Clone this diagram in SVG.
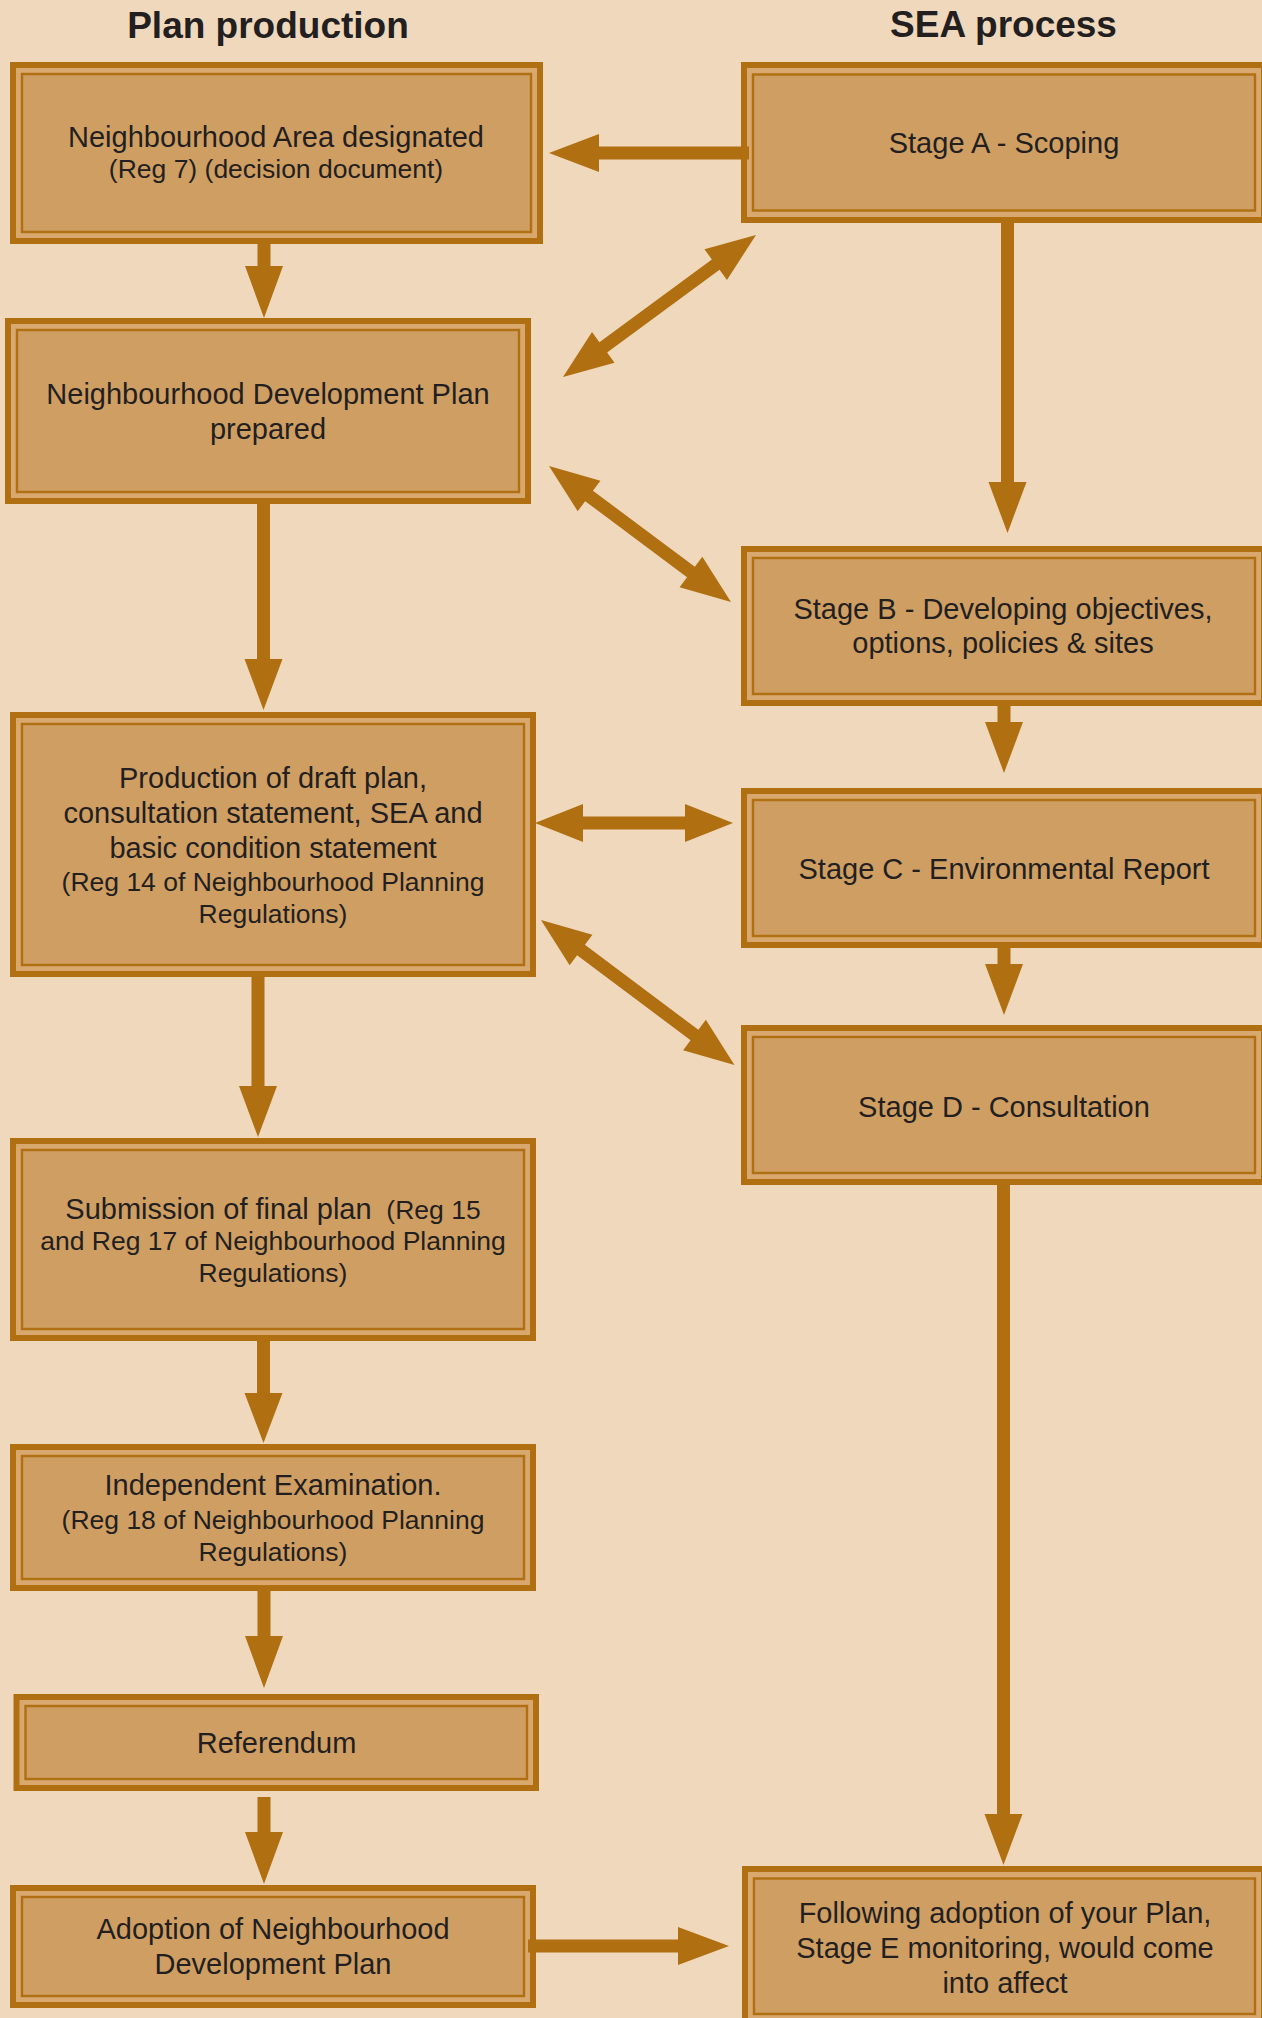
<svg xmlns="http://www.w3.org/2000/svg" width="1262" height="2018" viewBox="0 0 1262 2018">
<style>
.bg{fill:#EFD8BC}
.outer{fill:#D8A86E;stroke:#B06F10;stroke-width:6}
.inner{fill:#CF9E63;stroke:#B06F10;stroke-width:2.4}
.t{font-family:"Liberation Sans",Arial,sans-serif;fill:#231F20;text-anchor:middle;font-size:29px}
.s{font-size:26.5px}
.h{font-family:"Liberation Sans",Arial,sans-serif;fill:#231F20;text-anchor:middle;font-size:37px;font-weight:bold}
.c{fill:#B06F10}
</style>
<rect class="bg" x="0" y="0" width="1262" height="2018"/>
<text class="h" x="268" y="38">Plan production</text>
<text class="h" x="1003.5" y="37">SEA process</text>

<g id="n1">
<rect class="outer" x="13" y="65" width="527" height="176"/>
<rect class="inner" x="22" y="74" width="509" height="158"/>
<text class="t" x="276" y="147">Neighbourhood Area designated</text>
<text class="t s" x="276" y="178">(Reg 7) (decision document)</text>
</g>
<g id="n2">
<rect class="outer" x="8" y="321" width="520" height="180"/>
<rect class="inner" x="17" y="330" width="502" height="162"/>
<text class="t" x="268" y="404">Neighbourhood Development Plan</text>
<text class="t" x="268" y="439">prepared</text>
</g>
<g id="n3">
<rect class="outer" x="13" y="715" width="520" height="259"/>
<rect class="inner" x="22" y="724" width="502" height="241"/>
<text class="t" x="273" y="788">Production of draft plan,</text>
<text class="t" x="273" y="823">consultation statement, SEA and</text>
<text class="t" x="273" y="858">basic condition statement</text>
<text class="t s" x="273" y="891">(Reg 14 of Neighbourhood Planning</text>
<text class="t s" x="273" y="923">Regulations)</text>
</g>
<g id="n4">
<rect class="outer" x="13" y="1141" width="520" height="197"/>
<rect class="inner" x="22" y="1150" width="502" height="179"/>
<text class="t" x="273" y="1219" xml:space="preserve">Submission of final plan<tspan class="s">  (Reg 15</tspan></text>
<text class="t s" x="273" y="1250">and Reg 17 of Neighbourhood Planning</text>
<text class="t s" x="273" y="1282">Regulations)</text>
</g>
<g id="n5">
<rect class="outer" x="13" y="1447" width="520" height="141"/>
<rect class="inner" x="22" y="1456" width="502" height="123"/>
<text class="t" x="273" y="1495">Independent Examination.</text>
<text class="t s" x="273" y="1529">(Reg 18 of Neighbourhood Planning</text>
<text class="t s" x="273" y="1561">Regulations)</text>
</g>
<g id="n6">
<rect class="outer" x="16.5" y="1697" width="519.5" height="91"/>
<rect class="inner" x="25.5" y="1706" width="501.5" height="73"/>
<text class="t" x="276.5" y="1753">Referendum</text>
</g>
<g id="n7">
<rect class="outer" x="13" y="1888" width="520" height="117"/>
<rect class="inner" x="22" y="1897" width="502" height="99"/>
<text class="t" x="273" y="1939">Adoption of Neighbourhood</text>
<text class="t" x="273" y="1974">Development Plan</text>
</g>
<g id="nA">
<rect class="outer" x="744" y="65" width="520" height="155"/>
<rect class="inner" x="753" y="74.5" width="502" height="136"/>
<text class="t" x="1004" y="153">Stage A - Scoping</text>
</g>
<g id="nB">
<rect class="outer" x="744" y="549" width="520" height="154"/>
<rect class="inner" x="753" y="558" width="502" height="136"/>
<text class="t" x="1003" y="619">Stage B - Developing objectives,</text>
<text class="t" x="1003" y="653">options, policies &amp; sites</text>
</g>
<g id="nC">
<rect class="outer" x="744" y="791" width="520" height="154"/>
<rect class="inner" x="753" y="800" width="502" height="136"/>
<text class="t" x="1004" y="879">Stage C - Environmental Report</text>
</g>
<g id="nD">
<rect class="outer" x="744" y="1028" width="520" height="154"/>
<rect class="inner" x="753" y="1037" width="502" height="136"/>
<text class="t" x="1004" y="1117">Stage D - Consultation</text>
</g>
<g id="nE">
<rect class="outer" x="745" y="1869" width="519" height="152"/>
<rect class="inner" x="754" y="1878.5" width="501" height="135.5"/>
<text class="t" x="1005" y="1923">Following adoption of your Plan,</text>
<text class="t" x="1005" y="1958">Stage E monitoring, would come</text>
<text class="t" x="1005" y="1993">into affect</text>
</g>

<g id="connectors" class="c">
<polygon points="257.5,244 270.5,244 270.5,266 283,266 264,318 245,266 257.5,266"/>
<polygon points="257,504 270,504 270,659 282.5,659 263.5,710 244.5,659 257,659"/>
<polygon points="251.5,977 264.5,977 264.5,1086 277,1086 258,1137 239,1086 251.5,1086"/>
<polygon points="257,1341 270,1341 270,1393 282.5,1393 263.5,1443 244.5,1393 257,1393"/>
<polygon points="257.5,1591 270.5,1591 270.5,1636 283,1636 264,1688 245,1636 257.5,1636"/>
<polygon points="257.5,1797 270.5,1797 270.5,1832 283,1832 264,1884 245,1832 257.5,1832"/>
<polygon points="1001,222 1014,222 1014,482 1026.5,482 1007.5,533 988.5,482 1001,482"/>
<polygon points="997.5,704 1010.5,704 1010.5,722 1023,722 1004,773 985,722 997.5,722"/>
<polygon points="997.5,946 1010.5,946 1010.5,964 1023,964 1004,1015 985,964 997.5,964"/>
<polygon points="997,1185 1010,1185 1010,1814 1022.5,1814 1003.5,1865 984.5,1814 997,1814"/>
<polygon points="749,146.5 749,159.5 599,159.5 599,172 549,153 599,134 599,146.5"/>
<polygon points="528,1939.5 528,1952.5 678,1952.5 678,1965 729,1946 678,1927 678,1939.5"/>
<polygon transform="translate(535,823)" points="0,0 48,-19 48,-6.5 150,-6.5 150,-19 198,0 150,19 150,6.5 48,6.5 48,19"/>
<polygon transform="translate(563,377) rotate(-36.35)" points="0,0 50,-19 50,-6.5 189.6,-6.5 189.6,-19 239.6,0 189.6,19 189.6,6.5 50,6.5 50,19"/>
<polygon transform="translate(549,466) rotate(36.77)" points="0,0 50,-19 50,-6.5 177.2,-6.5 177.2,-19 227.2,0 177.2,19 177.2,6.5 50,6.5 50,19"/>
<polygon transform="translate(541,920) rotate(36.85)" points="0,0 50,-19 50,-6.5 191.8,-6.5 191.8,-19 241.8,0 191.8,19 191.8,6.5 50,6.5 50,19"/>
</g>
</svg>
